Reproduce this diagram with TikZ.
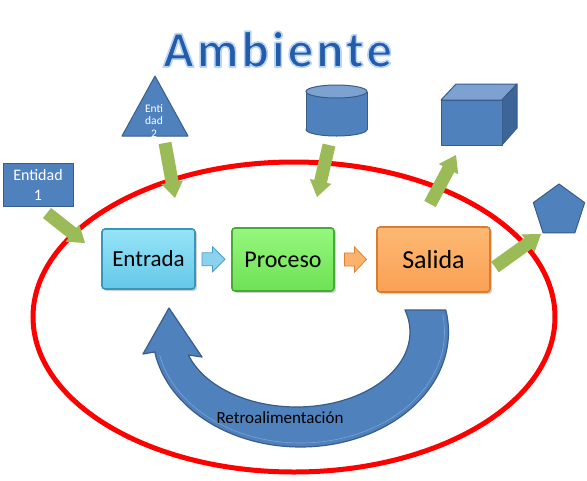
\documentclass[tikz,border=0pt]{standalone}
\usepackage{fontspec}
\setmainfont{Carlito}
\usetikzlibrary{calc,shapes.geometric,shadows}
\definecolor{sblue}{RGB}{79,129,189}
\definecolor{sbluedk}{RGB}{56,93,138}
\definecolor{sbluelt}{RGB}{125,162,210}
\definecolor{sbluedark}{RGB}{62,101,151}
\definecolor{olive}{RGB}{155,187,89}
\definecolor{titleblue}{RGB}{36,92,172}
\definecolor{entA}{RGB}{150,228,247}
\definecolor{entB}{RGB}{100,200,232}
\definecolor{entD}{RGB}{55,150,185}
\definecolor{proA}{RGB}{150,247,125}
\definecolor{proB}{RGB}{110,225,85}
\definecolor{proD}{RGB}{70,170,55}
\definecolor{salA}{RGB}{253,185,115}
\definecolor{salB}{RGB}{250,160,85}
\definecolor{salD}{RGB}{215,125,45}
\definecolor{cyA}{RGB}{140,210,238}
\definecolor{cyD}{RGB}{75,160,200}
\definecolor{orA}{RGB}{250,178,108}
\definecolor{orD}{RGB}{220,130,50}
\tikzset{
  box/.style={draw, line width=1.6pt, rounded corners=3pt, inner sep=0pt,
    drop shadow={shadow xshift=2pt, shadow yshift=-2pt, opacity=0.35}},
  garrowfill/.style={fill=olive},
  smallarrow/.style={line width=0.8pt, line join=miter},
  blueshape/.style={fill=sblue, draw=sbluedk, line width=1pt, line join=round},
}
\newcommand\greenarrow[2]{%
  \path ($(#2)!16pt!(#1)$) coordinate (ga-hb);
  \fill[garrowfill] ($(#1)!6.5pt!90:(#2)$) -- ($(ga-hb)!6.5pt!90:(#2)$)
    -- ($(ga-hb)!11pt!90:(#2)$) -- (#2) -- ($(ga-hb)!11pt!-90:(#2)$)
    -- ($(ga-hb)!6.5pt!-90:(#2)$) -- ($(#1)!6.5pt!-90:(#2)$) -- cycle;
}
\newcommand\outlinedtext[1]{%
  \special{pdf:literal direct 2 Tr 1.6 w 1 j 0.72 0.83 0.96 RG}#1\special{pdf:literal direct 0 Tr}}
\begin{document}
\begin{tikzpicture}[x=1pt,y=-1pt]
\useasboundingbox (0,0) rectangle (587,480);
\fill[white] (0,0) rectangle (587,480);

% title
\node[anchor=base, text=titleblue, inner sep=0pt] (title) at (277.5,67)
    {\fontsize{51}{51}\selectfont\bfseries\addfontfeature{LetterSpace=6}\outlinedtext{Ambiente}};

% environment ellipse
\draw[red, line width=5pt] (294,317) ellipse [x radius=261, y radius=155];

% Entidad 1
\node[blueshape, minimum width=70pt, minimum height=43pt, inner sep=0pt,
  text=white, align=center, font=\fontsize{16}{19.5}\selectfont] (ent1) at (38,185) {Entidad\\1};

% triangle
\fill[blueshape] (155,76) -- (188,136) -- (122,136) -- cycle;
\node[text=white, align=center, font=\fontsize{11.5}{12.5}\selectfont, inner sep=0pt] (ent2) at (154,121) {Enti\\dad\\2};

% cylinder
\filldraw[blueshape] (336.5,129.5) ellipse [x radius=30.5, y radius=6.5];
\fill[sblue] (306,91.5) rectangle (367,129.5);
\draw[sbluedk, line width=1pt] (306,91.5) -- (306,129.5) (367,91.5) -- (367,129.5);
\filldraw[fill=sbluelt, draw=sbluedk, line width=1pt] (336.5,91.5) ellipse [x radius=30.5, y radius=6.5];

% cube
\filldraw[fill=sbluelt, draw=sbluedk, line width=1pt, line join=round] (441,100) -- (456,84) -- (517,84) -- (502,100) -- cycle;
\filldraw[fill=sbluedark, draw=sbluedk, line width=1pt, line join=round] (502,100) -- (517,84) -- (517,128) -- (502,145) -- cycle;
\filldraw[blueshape] (441,100) rectangle (502,145);

% pentagon
\node[regular polygon, regular polygon sides=5, minimum size=54pt, inner sep=0pt, blueshape] (pent) at (559,211) {};

% green arrows
\coordinate (g1s) at (47,213);  \coordinate (g1e) at (85,243);
\coordinate (g2s) at (165,143); \coordinate (g2e) at (175,198);
\coordinate (g3s) at (329,145); \coordinate (g3e) at (317,197);
\coordinate (g4s) at (430,204); \coordinate (g4e) at (456,155);
\coordinate (g5s) at (495,267); \coordinate (g5e) at (541,234);
\greenarrow{g1s}{g1e}
\greenarrow{g2s}{g2e}
\greenarrow{g3s}{g3e}
\greenarrow{g4s}{g4e}
\greenarrow{g5s}{g5e}

% feedback arrow
\filldraw[fill=sblue, draw=sbluedk, line width=1.2pt, line join=round]
  plot[domain=-11:170, samples=70, variable=\t] ({300.5+148*cos(\t)},{332+115*sin(\t)})
  -- (143,354) -- (169,308) -- (202,357) -- (188.5,355)
  -- plot[domain=162.14:-17.06, samples=70, variable=\t] ({296.5+113.5*cos(\t)},{332+75*sin(\t)})
  -- cycle;
\draw[sbluelt, line width=0.6pt]
  plot[domain=-9:168, samples=70, variable=\t] ({300.5+144*cos(\t)},{332+111*sin(\t)});
\node[font=\fontsize{17}{17}\selectfont, inner sep=0pt] (retro) at (280,418) {Retroalimentación};

% process boxes
\node[box, draw=entD, top color=entA, bottom color=entB, minimum width=93pt, minimum height=60pt,
  font=\fontsize{23}{23}\selectfont] (entrada) at (148.5,259) {Entrada};
\node[box, draw=proD, top color=proA, bottom color=proB, minimum width=102pt, minimum height=63pt,
  font=\fontsize{24}{24}\selectfont] (proceso) at (283,259.5) {Proceso};
\node[box, draw=salD, top color=salA, bottom color=salB, minimum width=113pt, minimum height=65pt,
  font=\fontsize{26}{26}\selectfont] (salida) at (433.5,259.5) {Salida};

% small arrows
\coordinate (a1) at ($(entrada.east)!0.5!(proceso.west)$);
\coordinate (a2) at ($(proceso.east)!0.5!(salida.west)$);
\filldraw[smallarrow, fill=cyA, draw=cyD] ([shift={(-11.5,-6.5)}]a1) -- ([shift={(-1,-6.5)}]a1)
  -- ([shift={(-1,-12.5)}]a1) -- ([shift={(11.5,0)}]a1) -- ([shift={(-1,12.5)}]a1)
  -- ([shift={(-1,6.5)}]a1) -- ([shift={(-11.5,6.5)}]a1) -- cycle;
\filldraw[smallarrow, fill=orA, draw=orD] ([shift={(-11,-6.5)}]a2) -- ([shift={(-1,-6.5)}]a2)
  -- ([shift={(-1,-12.5)}]a2) -- ([shift={(11,0)}]a2) -- ([shift={(-1,12.5)}]a2)
  -- ([shift={(-1,6.5)}]a2) -- ([shift={(-11,6.5)}]a2) -- cycle;
\end{tikzpicture}
\end{document}
